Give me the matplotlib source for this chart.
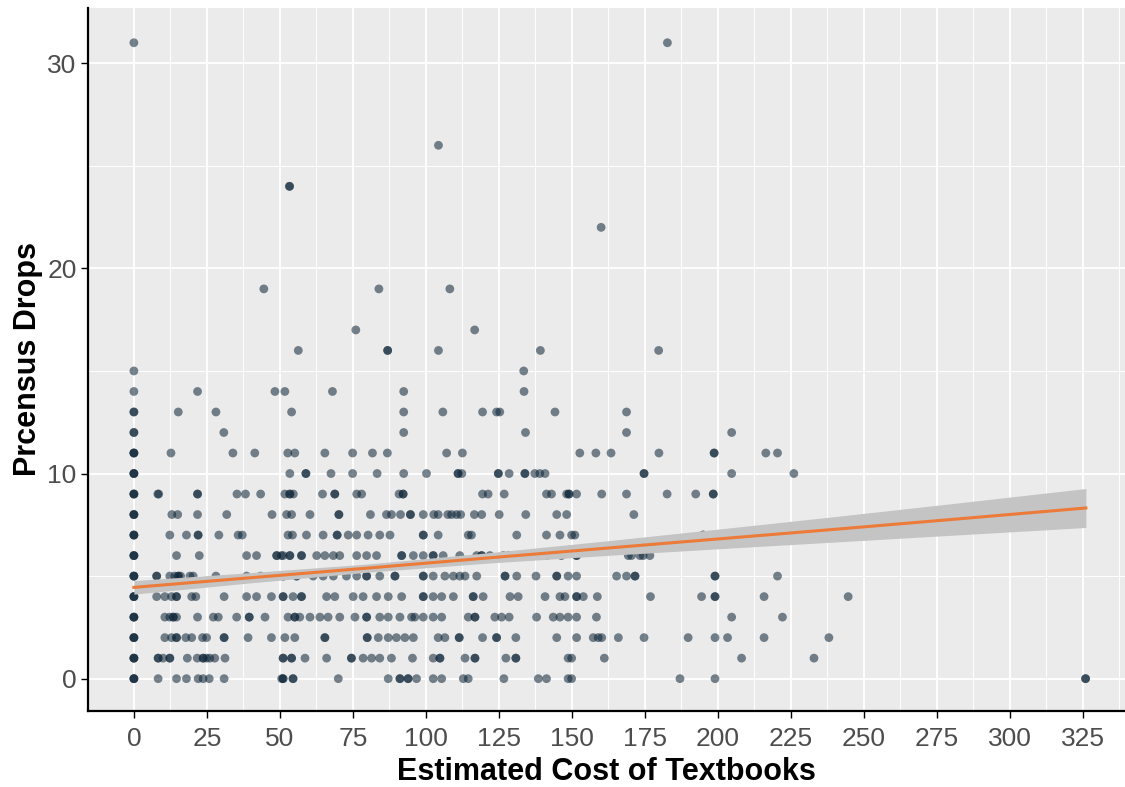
import matplotlib
matplotlib.use('Agg')
import matplotlib.pyplot as plt
import numpy as np

# x positions (estimated textbook cost) of the points on each drop-count row.
# A value listed twice stands for stacked points (drawn darker in the original).
cost_at_0 = [0, 0, 0, 8.3, 14.6, 18, 22, 23.7, 25.8, 30.9, 50.6, 51.1, 51.1, 54.5, 54.5, 70,
             87.1, 91.1, 91.1, 93.9, 93.9, 96.8, 102.5, 105.4, 112.8, 114.5, 126.7, 138.5,
             141.3, 148.7, 149.9, 187, 199, 325.9, 325.9]
cost_at_1 = [0, 0, 0, 8.3, 8.3, 10, 12.3, 12.3, 18.3, 21.7, 23.7, 23.7, 24.9, 26, 27.7, 31.2,
             51.1, 51.1, 54, 54, 58.6, 66, 74.5, 74.5, 78.5, 81.4, 84.2, 88.2, 95.4, 102.5,
             104.8, 104.8, 113.4, 116.8, 116.8, 127.4, 130.8, 130.8, 148.7, 149.9, 161.1,
             208.1, 232.9]
cost_at_2 = [0, 0, 0, 10.6, 12.9, 14.6, 14.6, 17.8, 19.8, 23.5, 24.9, 30.9, 30.9, 39.1, 47.1,
             51.7, 55.1, 65.4, 65.4, 79.9, 79.9, 83.7, 87.1, 89.9, 92.8, 95.7, 104.2, 106.5,
             111.4, 111.4, 119.4, 124.2, 124.2, 130.8, 144.8, 151.6, 157.3, 159, 160.2, 165.9,
             174.7, 189.8, 199, 203.3, 215.8, 238]
cost_at_3 = [0, 0, 0, 10.6, 12.3, 13.5, 13.5, 14.6, 21.8, 27.2, 28.9, 35.2, 39.5, 39.5, 44.9,
             52.8, 55.1, 55.1, 56.8, 60.3, 63.7, 66.5, 70.5, 75.7, 79.7, 79.7, 84.2, 87.1, 91.1,
             95.1, 96.2, 99.1, 102.5, 105.4, 114.5, 116.8, 116.8, 123.6, 125.9, 128.5, 137.9,
             143.6, 145.9, 148.7, 151.6, 158.4, 204.7, 222.1]
cost_at_4 = [0, 0, 0, 7.8, 10.6, 12.9, 14.6, 14.6, 19.8, 21.2, 30.9, 38.6, 42, 47.1,
             51.1, 51.1, 54.5, 57.4, 57.4, 66, 68.8, 75.1, 78.5, 83.1, 87.1, 91.7, 99.1, 99.1,
             102.5, 105.4, 109.4, 116.2, 116.2, 119.6, 128.8, 131.6, 140.8, 145.9, 147.6,
             151.6, 151.6, 153.9, 158.7, 176.9, 194.4, 199, 199, 215.8, 244.6]
cost_at_5 = [0, 0, 0, 7.8, 7.8, 12.3, 14, 15.2, 15.2, 16, 19.2, 20.3, 28.1, 38.6, 43.4,
             51.1, 51.1, 55.7, 55.7, 61.4, 64.8, 68.3, 72.8, 76.3, 79.7, 79.7, 84.2, 89.4, 89.4,
             99.1, 99.1, 102.5, 106.5, 109.4, 111.6, 113.4, 117.4, 127.1, 127.1, 131.1, 137.7,
             144.8, 144.8, 148.7, 151.6, 165.3, 168.7, 171.6, 171.6, 199, 199, 220.4]
cost_at_6 = [0, 0, 0, 14.6, 22.4, 38.6, 42, 48.9, 48.9, 50.5,
             51.1, 53.4, 53.4, 57.4, 57.4, 62.6, 65.4, 68.3, 70.5, 76.3, 79.7, 83.1, 91.7, 91.7,
             95.7, 99.1, 102.5, 102.5, 105.9, 111.6, 117.4, 119.1, 119.1, 121.9, 126.5, 128.2,
             132.2, 133.3, 138.5, 141.3, 146.4, 151.6, 151.6, 169.3, 170.4, 173.3, 174.4, 176.7]
cost_at_7 = [0, 0, 0, 12.3, 18, 22, 22, 29.1, 35.7, 37.1, 52.8, 54.3, 59.1, 64.8, 69.6, 69.6,
             73.4, 76.3, 80.2, 84.2, 87.7, 99.1, 99.1, 104.2, 114.5, 115.6, 131.1, 141.3,
             145.9, 149.9, 151, 195, 195]
cost_at_8 = [0, 0, 0, 13, 15, 21.8, 31.8, 47.3, 52.3, 54, 60.3, 70.2, 70.2, 81, 86.5, 88.2,
             91.3, 94.7, 94.7, 99.1, 102.7, 104.2, 107.5, 108.8, 110.5, 111.9, 116.6, 119.1,
             125.1, 134.2, 144.8, 148.2, 171.2]
cost_at_9 = [0, 0, 0, 8.2, 8.5, 21.8, 21.8, 35.3, 38.2, 43.4, 51.7, 53.4, 53.4, 54.6, 64.6,
             68.8, 68.8, 76.3, 78, 90.8, 92.2, 92.2, 119.4, 121.3, 126.8, 141.3, 143, 148.2,
             149, 149, 151.6, 160.2, 168.7, 182.6, 192.4, 198.4, 198.4]
cost_at_10 = [0, 0, 0, 53.4, 58.9, 58.9, 67.5, 74.9, 83.3, 92.4, 100.2, 111, 111, 112.3,
              124.8, 124.8, 128.5, 133.9, 133.9, 137.3, 139, 140.8, 174.7, 174.7, 204.7, 226]
cost_at_11 = [0, 0, 0, 12.7, 33.9, 41.4, 52.7, 55.1, 65.4, 74.9, 81.7, 86.8, 107.1, 112.5,
              152.7, 158.2, 163.4, 179.8, 198.7, 198.7, 216.4, 220.4]
cost_at_12 = [0, 0, 30.8, 92.4, 134.1, 168.7, 204.7]
cost_at_13 = [0, 0, 15.2, 28.1, 54, 92.4, 105.8, 119.4, 124.2, 125.3, 144.2, 168.7]
cost_at_14 = [0, 21.8, 48.3, 51.7, 68, 92.4, 133.6]
cost_at_15 = [0, 133.5]
cost_at_16 = [56.3, 86.9, 86.9, 104.3, 139.2, 179.7]
cost_at_17 = [76, 116.7]
cost_at_19 = [44.5, 83.9, 108.2]
cost_at_22 = [160]
cost_at_24 = [53.3, 53.3]
cost_at_26 = [104.3]
cost_at_31 = [0, 182.7]

rows = {
    0: cost_at_0, 1: cost_at_1, 2: cost_at_2, 3: cost_at_3, 4: cost_at_4, 5: cost_at_5,
    6: cost_at_6, 7: cost_at_7, 8: cost_at_8, 9: cost_at_9, 10: cost_at_10, 11: cost_at_11,
    12: cost_at_12, 13: cost_at_13, 14: cost_at_14, 15: cost_at_15, 16: cost_at_16,
    17: cost_at_17, 19: cost_at_19, 22: cost_at_22, 24: cost_at_24, 26: cost_at_26,
    31: cost_at_31,
}

# lm smooth (many original points are hidden by overplotting)
fit_x = [0, 40, 80, 120, 160, 200, 240, 280, 326]
fit_y = [4.45, 4.92, 5.39, 5.87, 6.34, 6.81, 7.28, 7.76, 8.32]
fit_lower = [4.12, 4.67, 5.19, 5.62, 5.99, 6.33, 6.66, 6.99, 7.37]
fit_upper = [4.78, 5.17, 5.59, 6.12, 6.69, 7.29, 7.90, 8.53, 9.27]

x_ticks = list(range(0, 326, 25))
y_ticks = [0, 10, 20, 30]

POINT_COLOR = '#0B2336'
LINE_COLOR = '#EC7A38'
BAND_COLOR = '#C4C4C4'
PANEL_BG = '#EBEBEB'
FONT = 'Liberation Sans'

x = np.concatenate([np.asarray(v, float) for v in rows.values()])
y = np.concatenate([np.full(len(v), k, float) for k, v in rows.items()])

fig = plt.figure(figsize=(11.25, 7.87), dpi=100)
ax = fig.add_axes([0.078, 0.097, 0.922, 0.893])
ax.set_facecolor(PANEL_BG)

ax.set_xticks(np.arange(12.5, 340, 25), minor=True)
ax.set_yticks([5, 15, 25], minor=True)
ax.grid(True, which='major', color='white', lw=1.3)
ax.grid(True, which='minor', color='white', lw=0.7)
ax.set_axisbelow(True)

ax.scatter(x, y, s=40, color=POINT_COLOR, alpha=0.55, edgecolors='none', zorder=3)
ax.fill_between(fit_x, fit_lower, fit_upper, color=BAND_COLOR, lw=0, zorder=4)
ax.plot(fit_x, fit_y, color=LINE_COLOR, lw=2.2, zorder=5)

ax.set_xlim(-15.8, 339.4)
ax.set_ylim(-1.56, 32.7)
ax.set_xticks(x_ticks)
ax.set_yticks(y_ticks)

for side in ('top', 'right'):
    ax.spines[side].set_visible(False)
for side in ('left', 'bottom'):
    ax.spines[side].set_color('black')
    ax.spines[side].set_linewidth(1.6)

ax.tick_params(which='major', length=5, width=1, color='black', labelsize=19,
               labelcolor='#4D4D4D', pad=3)
ax.tick_params(axis='x', which='major', pad=7)
ax.tick_params(which='minor', length=0)
for lab in ax.get_xticklabels() + ax.get_yticklabels():
    lab.set_family(FONT)

ax.set_xlabel('Estimated Cost of Textbooks', fontsize=22, fontweight='bold',
              family=FONT, labelpad=4)
ax.set_ylabel('Prcensus Drops', fontsize=22, fontweight='bold',
              family=FONT, labelpad=3)

fig.savefig('out.png', dpi=100)
